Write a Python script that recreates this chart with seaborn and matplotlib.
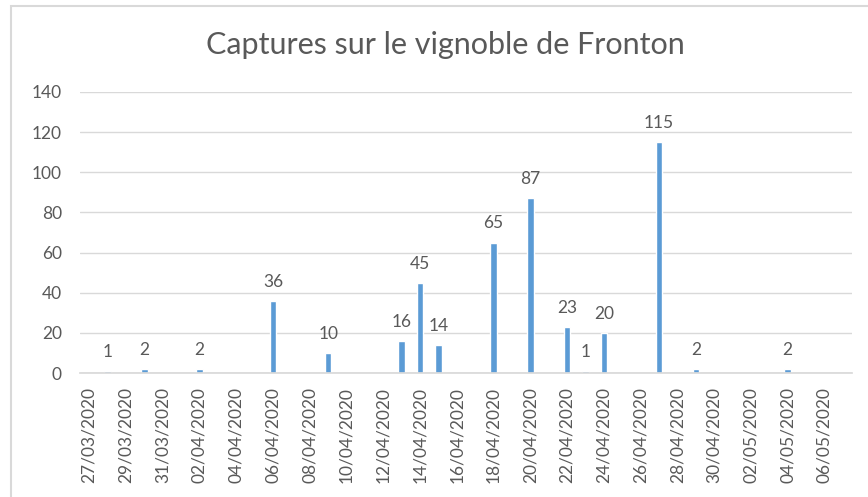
import matplotlib
matplotlib.use("Agg")
import matplotlib.pyplot as plt
import matplotlib.patches as mpatches
import seaborn as sns
import pandas as pd
import numpy as np

# captures relevees (date de releve, nombre)
dates = ["28/03/2020", "30/03/2020", "02/04/2020", "06/04/2020", "09/04/2020",
         "13/04/2020", "14/04/2020", "15/04/2020", "18/04/2020", "20/04/2020",
         "22/04/2020", "23/04/2020", "24/04/2020", "27/04/2020", "29/04/2020",
         "04/05/2020"]
captures = [1, 2, 2, 36, 10, 16, 45, 14, 65, 87, 23, 1, 20, 115, 2, 2]

axis_start = "27/03/2020"
axis_end = "07/05/2020"
y_ticks = [0, 20, 40, 60, 80, 100, 120, 140]

grey = "#595959"
bar_color = "#5B9BD5"

sns.set_theme(style="white")
plt.rcParams["font.family"] = ["Lato", "DejaVu Sans"]

start = pd.to_datetime(axis_start, dayfirst=True)
end = pd.to_datetime(axis_end, dayfirst=True)
df = pd.DataFrame({"date": pd.to_datetime(dates, dayfirst=True), "captures": captures})
df["jour"] = (df["date"] - start).dt.days

fig = plt.figure(figsize=(8.68, 4.97), dpi=100)
ax = fig.add_axes([80 / 868, 1 - 373 / 497, (852 - 80) / 868, (373 - 92) / 497])

sns.barplot(data=df, x="jour", y="captures", native_scale=True, color=bar_color,
            saturation=1, width=0.35, ax=ax)

n_days = (end - start).days
ax.set_xlim(-0.5, n_days + 0.5)
ax.set_ylim(0, 140)

all_days = pd.date_range(start, end, freq="2D")
tick_pos = [(d - start).days for d in all_days if d <= end - pd.Timedelta(days=1)]
ax.set_xticks(tick_pos)
ax.set_xticklabels([(start + pd.Timedelta(days=t)).strftime("%d/%m/%Y") for t in tick_pos],
                   rotation=90, fontsize=12.5, color=grey)
ax.set_yticks(y_ticks)
ax.set_yticklabels([str(v) for v in y_ticks], fontsize=12.5, color=grey)
ax.tick_params(axis="y", length=0, pad=13)
ax.tick_params(axis="x", length=0, pad=10)

ax.grid(axis="y", color="#D9D9D9", linewidth=1)
ax.set_axisbelow(True)
for s in ["top", "right", "left"]:
    ax.spines[s].set_visible(False)
ax.spines["bottom"].set_color("#D9D9D9")
ax.set_xlabel("")
ax.set_ylabel("")

for x, v in zip(df["jour"], df["captures"]):
    ax.text(x, v + 5.5, str(v), ha="center", va="bottom", fontsize=12.5, color=grey)

fig.text(445 / 868, 1 - 45 / 497, "Captures sur le vignoble de Fronton",
         ha="center", va="center", fontsize=22, color=grey)

border = mpatches.Rectangle((11 / 868, -0.1), 1.2, 1 - 6 / 497 + 0.1,
                            transform=fig.transFigure, fill=False,
                            edgecolor="#D9D9D9", linewidth=1.5)
fig.patches.append(border)

fig.savefig("out.png", dpi=100)
